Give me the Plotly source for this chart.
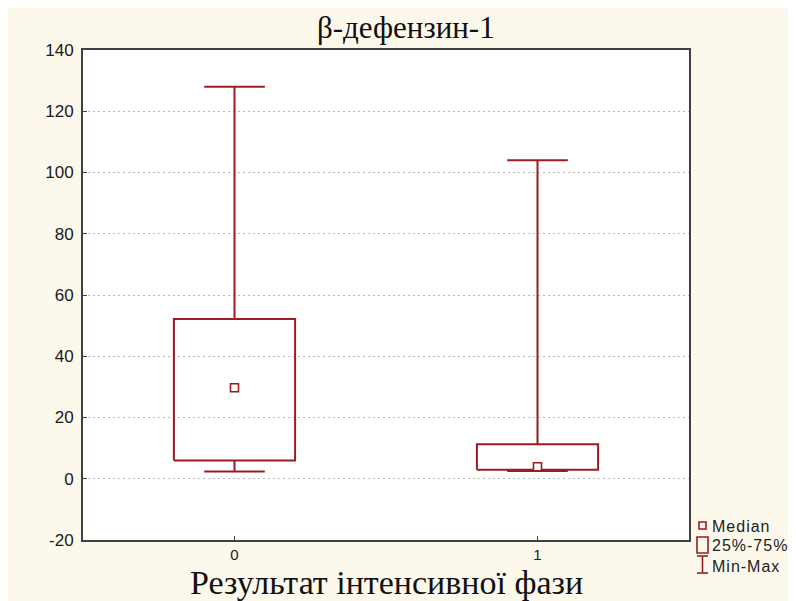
import plotly.graph_objects as go

# ---- data ----
categories = ["0", "1"]
minimum = [2.4, 2.5]
q1 = [6.0, 2.9]
median = [29.7, 3.9]
q3 = [52.2, 11.3]
maximum = [128.0, 104.0]
y_ticks = [-20, 0, 20, 40, 60, 80, 100, 120, 140]
legend_labels = ["Median", "25%-75%", "Min-Max"]
title_text = "β-дефензин-1"
xaxis_text = "Результат інтенсивної фази"

# ---- styles ----
OX, OY = 8, 8            # page body margin offset
W, H = 788, 593          # figure size
PL, PR, PT, PB = 83, 689, 50, 540   # plot area in window pixels
ML, MT = PL - OX, PT - OY
MR, MB = (OX + W) - PR, (OY + H) - PB
PW, PH = PR - PL, PB - PT
RED = "#9a1c22"
CREAM = "#fdf8ec"
BOX_HALF = 0.2
CAP_HALF = 0.1
SANS = "Liberation Sans, Arial, sans-serif"
SERIF = "Liberation Serif, Times New Roman, serif"


def px_x(p):
    return (p - PL) / PW


def px_y(p):
    return (PB - p) / PH


xs = list(range(len(categories)))

fig = go.Figure()

# whiskers + caps
wx, wy = [], []
for i, x in enumerate(xs):
    wx += [x, x, None, x, x, None,
           x - CAP_HALF, x + CAP_HALF, None, x - CAP_HALF, x + CAP_HALF, None]
    wy += [q3[i], maximum[i], None, q1[i], minimum[i], None,
           maximum[i], maximum[i], None, minimum[i], minimum[i], None]
fig.add_trace(go.Scatter(x=wx, y=wy, mode="lines",
                         line=dict(color=RED, width=2), hoverinfo="skip",
                         showlegend=False))

# boxes
bx, by = [], []
for i, x in enumerate(xs):
    bx += [x - BOX_HALF, x + BOX_HALF, x + BOX_HALF, x - BOX_HALF, x - BOX_HALF, None]
    by += [q1[i], q1[i], q3[i], q3[i], q1[i], None]
fig.add_trace(go.Scatter(x=bx, y=by, mode="lines",
                         line=dict(color=RED, width=2), hoverinfo="skip",
                         showlegend=False))

# medians
fig.add_trace(go.Scatter(x=xs, y=median, mode="markers",
                         marker=dict(symbol="square", size=8, color="white",
                                     line=dict(color=RED, width=1.6)),
                         showlegend=False))

shapes = []
# custom legend symbols
shapes.append(dict(type="rect", xref="paper", yref="paper",
                   x0=px_x(699), x1=px_x(706), y0=px_y(529), y1=px_y(522),
                   line=dict(color=RED, width=1.6), fillcolor="rgba(0,0,0,0)"))
shapes.append(dict(type="rect", xref="paper", yref="paper",
                   x0=px_x(697), x1=px_x(708), y0=px_y(553), y1=px_y(537),
                   line=dict(color=RED, width=1.6), fillcolor="rgba(0,0,0,0)"))
for (x0, y0, x1, y1) in [(697, 556, 708, 556), (697, 573, 708, 573), (702.5, 556, 702.5, 573)]:
    shapes.append(dict(type="line", xref="paper", yref="paper",
                       x0=px_x(x0), x1=px_x(x1), y0=px_y(y0), y1=px_y(y1),
                       line=dict(color=RED, width=1.6)))

annotations = []
for lbl, yc in zip(legend_labels, [526, 545, 566]):
    annotations.append(dict(text="<span style='letter-spacing:1px'>%s</span>" % lbl,
                            xref="paper", yref="paper",
                            x=px_x(710), y=px_y(yc), xanchor="left", yanchor="middle",
                            showarrow=False,
                            font=dict(family=SANS, size=16, color="#222222")))
annotations.append(dict(text=xaxis_text, xref="paper", yref="paper",
                        x=0.5, y=px_y(582), xanchor="center", yanchor="middle",
                        showarrow=False,
                        font=dict(family=SERIF, size=34, color="#111111")))
annotations.append(dict(text=title_text, xref="paper", yref="paper",
                        x=px_x(406), y=px_y(28), xanchor="center", yanchor="middle",
                        showarrow=False,
                        font=dict(family=SERIF, size=31, color="#111111")))

fig.update_layout(
    width=W, height=H,
    margin=dict(l=ML, r=MR, t=MT, b=MB),
    paper_bgcolor=CREAM, plot_bgcolor="white",
    showlegend=False,
    shapes=shapes, annotations=annotations,
    xaxis=dict(range=[-0.5, 1.5], tickvals=xs, ticktext=categories,
               showgrid=False, zeroline=False,
               showline=True, mirror=True, linecolor="#404040", linewidth=2,
               ticks="inside", ticklen=4, tickcolor="#404040",
               tickfont=dict(family=SANS, size=15, color="#1a1a1a"),
               fixedrange=True),
    yaxis=dict(range=[-20, 140], tickvals=y_ticks,
               ticktext=[str(v) for v in y_ticks],
               showgrid=True, gridcolor="#b8b8b8", gridwidth=1, griddash="2px,3px",
               zeroline=False,
               showline=True, mirror=True, linecolor="#404040", linewidth=2,
               ticks="inside", ticklen=4, tickcolor="#404040",
               ticklabelstandoff=4,
               tickfont=dict(family=SANS, size=17, color="#1a1a1a"),
               fixedrange=True),
)

fig.write_html("out.html")
